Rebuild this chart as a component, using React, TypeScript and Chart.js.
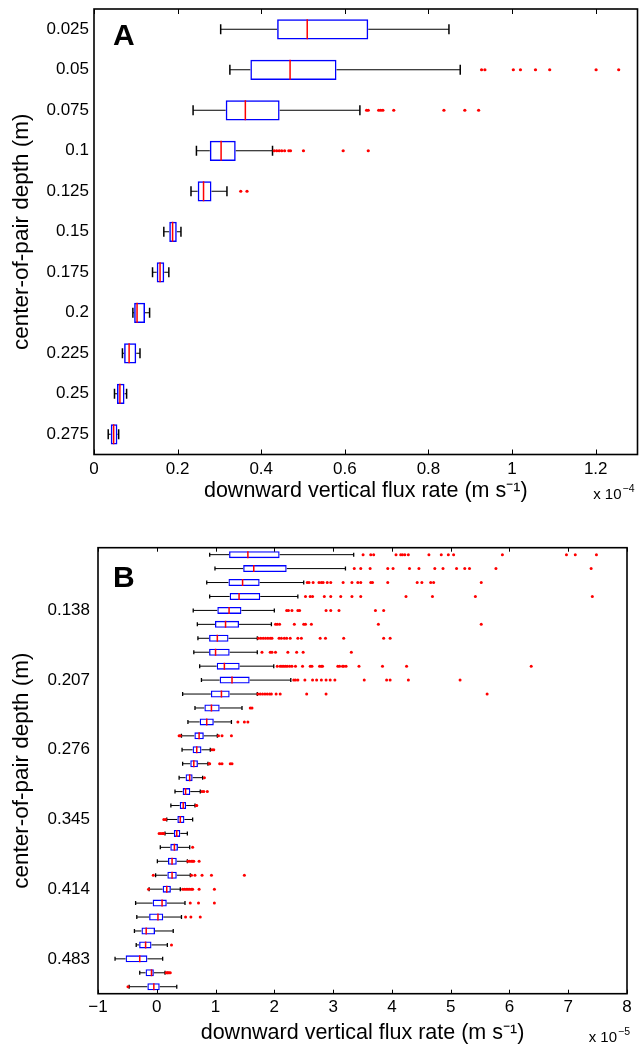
import React, { useEffect, useRef } from 'react';
import { Chart, registerables } from 'chart.js';

Chart.register(...registerables);

const FONT = '"Liberation Sans", Arial, Helvetica, sans-serif';

// ---------- Panel A ----------
const depthsA = [0.025, 0.05, 0.075, 0.1, 0.125, 0.15, 0.175, 0.2, 0.225, 0.25, 0.275];
const yTickLabelsA = ['0.025', '0.05', '0.075', '0.1', '0.125', '0.15', '0.175', '0.2', '0.225', '0.25', '0.275'];
const loA = [0.303, 0.325, 0.237, 0.245, 0.232, 0.167, 0.14, 0.093, 0.068, 0.049, 0.034];
const q1A = [0.438, 0.374, 0.315, 0.277, 0.248, 0.18, 0.15, 0.096, 0.072, 0.055, 0.04];
const medA = [0.51, 0.469, 0.362, 0.304, 0.262, 0.188, 0.158, 0.103, 0.084, 0.062, 0.047];
const q3A = [0.656, 0.58, 0.444, 0.339, 0.281, 0.198, 0.168, 0.122, 0.101, 0.073, 0.056];
const hiA = [0.849, 0.876, 0.636, 0.427, 0.318, 0.208, 0.179, 0.133, 0.11, 0.078, 0.059];
const outliersA = [
  [],
  [0.927, 0.935, 1.003, 1.02, 1.056, 1.09, 1.201, 1.255],
  [0.652, 0.656, 0.681, 0.686, 0.691, 0.717, 0.837, 0.887, 0.92],
  [0.431, 0.437, 0.443, 0.449, 0.456, 0.466, 0.47, 0.501, 0.596, 0.656],
  [0.351, 0.366],
  [], [], [], [], [], [],
];
const xTicksA = [0, 0.2, 0.4, 0.6, 0.8, 1, 1.2];
const xTickLabelsA = ['0', '0.2', '0.4', '0.6', '0.8', '1', '1.2'];

// ---------- Panel B ----------
const depthsB = [0.0828, 0.0966, 0.1104, 0.1242, 0.138, 0.1518, 0.1656, 0.1794, 0.1932, 0.207, 0.2208, 0.2346,
  0.2484, 0.2622, 0.276, 0.2898, 0.3036, 0.3174, 0.3312, 0.345, 0.3588, 0.3726, 0.3864, 0.4002, 0.414, 0.4278,
  0.4416, 0.4554, 0.4692, 0.483, 0.4968, 0.5106];
const yTicksB = [0.138, 0.207, 0.276, 0.345, 0.414, 0.483];
const yTickLabelsB = ['0.138', '0.207', '0.276', '0.345', '0.414', '0.483'];
const loB = [0.9, 0.99, 0.85, 0.9, 0.62, 0.69, 0.7, 0.63, 0.73, 0.76, 0.44, 0.65, 0.53, 0.42, 0.43, 0.44, 0.38,
  0.31, 0.24, 0.17, 0.14, 0.06, 0.01, -0.02, -0.13, -0.36, -0.34, -0.38, -0.35, -0.71, -0.29, -0.47];
const q1B = [1.23, 1.47, 1.22, 1.24, 1.03, 0.99, 0.89, 0.89, 1.02, 1.07, 0.92, 0.81, 0.73, 0.64, 0.61, 0.57, 0.49,
  0.44, 0.39, 0.35, 0.29, 0.23, 0.19, 0.18, 0.1, -0.07, -0.13, -0.26, -0.3, -0.53, -0.19, -0.16];
const medB = [1.55, 1.65, 1.46, 1.4, 1.23, 1.17, 1.03, 1.0, 1.15, 1.28, 1.1, 0.93, 0.85, 0.72, 0.68, 0.63, 0.56,
  0.49, 0.45, 0.4, 0.34, 0.3, 0.26, 0.26, 0.17, 0.09, 0.02, -0.18, -0.19, -0.29, -0.09, -0.05];
const q3B = [2.09, 2.21, 1.75, 1.76, 1.44, 1.4, 1.22, 1.24, 1.41, 1.58, 1.24, 1.07, 0.97, 0.8, 0.76, 0.7, 0.61,
  0.57, 0.5, 0.47, 0.4, 0.36, 0.34, 0.34, 0.24, 0.17, 0.11, -0.03, -0.09, -0.16, -0.05, 0.05];
const hiB = [3.35, 3.21, 2.5, 2.4, 2.0, 1.95, 1.71, 1.71, 1.99, 2.28, 1.71, 1.45, 1.27, 1.03, 0.91, 0.87, 0.78,
  0.74, 0.65, 0.61, 0.52, 0.56, 0.52, 0.57, 0.4, 0.48, 0.42, 0.28, 0.18, 0.1, 0.14, 0.34];
const outliersB = [
  [3.51, 3.64, 3.69, 4.07, 4.15, 4.18, 4.22, 4.28, 4.63, 4.84, 4.96, 5.05, 5.88, 6.97, 7.12, 7.48],
  [3.36, 3.47, 3.63, 3.93, 4.02, 4.3, 4.46, 4.73, 4.87, 5.1, 5.24, 5.32, 5.77, 7.39],
  [2.56, 2.59, 2.66, 2.76, 2.8, 2.83, 2.9, 2.96, 3.17, 3.32, 3.42, 3.47, 3.64, 3.67, 3.93, 4.43, 4.51, 4.66, 4.71, 5.52],
  [2.53, 2.61, 2.65, 2.85, 2.96, 3.13, 3.32, 3.47, 4.24, 4.69, 5.42, 7.41],
  [2.21, 2.24, 2.3, 2.4, 2.43, 2.88, 2.96, 3.1, 3.72, 3.86],
  [2.02, 2.05, 2.09, 2.34, 2.5, 2.53, 2.63, 3.77, 5.52],
  [1.73, 1.77, 1.81, 1.85, 1.89, 1.93, 1.96, 2.08, 2.12, 2.17, 2.21, 2.27, 2.4, 2.46, 2.78, 2.87, 3.18, 3.86, 3.97],
  [1.79, 1.93, 1.96, 2.02, 2.23, 2.38, 2.49, 3.31],
  [2.05, 2.1, 2.13, 2.16, 2.19, 2.22, 2.26, 2.3, 2.36, 2.48, 2.61, 2.64, 2.77, 2.8, 2.82, 3.08, 3.11, 3.16, 3.18, 3.22, 3.44, 3.84, 4.25, 6.37],
  [2.33, 2.36, 2.4, 2.52, 2.65, 2.72, 2.8, 2.88, 2.95, 3.03, 3.53, 3.91, 3.97, 4.28, 5.16],
  [1.72, 1.76, 1.8, 1.84, 1.88, 1.92, 1.95, 2.03, 2.1, 2.55, 2.88, 5.62],
  [1.59, 1.62],
  [1.38, 1.49, 1.55],
  [0.38, 0.4, 1.05, 1.11, 1.27],
  [0.94, 0.97],
  [0.89, 0.9, 1.07, 1.11, 1.25, 1.28],
  [0.81],
  [0.77, 0.8, 0.86],
  [0.67, 0.68],
  [0.12, 0.15],
  [0.04, 0.07, 0.1, 0.12],
  [0.61],
  [0.53, 0.56, 0.59, 0.61, 0.63, 0.72],
  [-0.06, 0.59, 0.65, 0.77, 0.93, 1.49],
  [-0.14, 0.44, 0.47, 0.5, 0.53, 0.56, 0.59, 0.61, 0.72, 0.98],
  [0.57, 0.71, 0.98],
  [0.49, 0.58, 0.74],
  [],
  [0.25],
  [],
  [0.16, 0.18, 0.19, 0.21, 0.23],
  [-0.49],
];
const xTicksB = [-1, 0, 1, 2, 3, 4, 5, 6, 7, 8];
const xTickLabelsB = ['\u22121', '0', '1', '2', '3', '4', '5', '6', '7', '8'];

const X_TITLE = 'downward vertical flux rate (m s\u207B\u00B9)';
const Y_TITLE = 'center-of-pair depth (m)';

function buildDatasets(depths, lo, q1, med, q3, hi, outliers, st) {
  const whiskers = [];
  depths.forEach((d, i) => {
    whiskers.push({ x: lo[i], y: d }, { x: q1[i], y: d }, { x: null, y: null });
    whiskers.push({ x: q3[i], y: d }, { x: hi[i], y: d }, { x: null, y: null });
  });
  const caps = [];
  depths.forEach((d, i) => {
    caps.push({ x: lo[i], y: d }, { x: hi[i], y: d });
  });
  const dots = [];
  outliers.forEach((row, i) => row.forEach((v) => dots.push({ x: v, y: depths[i] })));
  return [
    {
      type: 'scatter', label: 'whiskers', data: whiskers, showLine: true, spanGaps: false,
      borderColor: '#000', borderWidth: st.whiskerW, pointRadius: 0, order: 5,
    },
    {
      type: 'bar', label: 'box', indexAxis: 'y',
      data: depths.map((d, i) => ({ x: [q1[i], q3[i]], y: d })),
      backgroundColor: 'rgba(255,255,255,0)', borderColor: '#0000ff', borderWidth: st.boxW,
      borderSkipped: false, categoryPercentage: 1, barPercentage: 0.5, order: 4,
    },
    {
      type: 'scatter', label: 'median', data: depths.map((d, i) => ({ x: med[i], y: d })),
      pointStyle: 'line', pointRotation: 90, pointRadius: st.medR,
      pointBorderColor: '#ff0000', pointBorderWidth: st.medW, order: 3,
    },
    {
      type: 'scatter', label: 'caps', data: caps,
      pointStyle: 'line', pointRotation: 90, pointRadius: st.capR,
      pointBorderColor: '#000', pointBorderWidth: st.capW, order: 2,
    },
    {
      type: 'scatter', label: 'outliers', data: dots,
      pointStyle: 'circle', pointRadius: st.dotR, pointBackgroundColor: '#ff0000',
      pointBorderColor: '#ff0000', pointBorderWidth: 0, order: 1,
    },
  ];
}

function framePlugin(cfg) {
  return {
    id: 'frame' + cfg.letter,
    afterDraw(chart) {
      const { ctx, chartArea: a } = chart;
      const xs = chart.scales.x;
      ctx.save();
      ctx.strokeStyle = '#000';
      ctx.lineWidth = 1;
      ctx.beginPath();
      xs.ticks.forEach((t) => {
        const px = Math.round(xs.getPixelForValue(t.value)) + 0.5;
        ctx.moveTo(px, a.bottom);
        ctx.lineTo(px, a.bottom - cfg.tickLen);
        ctx.moveTo(px, a.top);
        ctx.lineTo(px, a.top + cfg.tickLen);
      });
      ctx.stroke();
      ctx.lineWidth = cfg.frameW;
      ctx.strokeRect(a.left, a.top, a.right - a.left, a.bottom - a.top);
      ctx.fillStyle = '#000';
      ctx.font = `bold 30px ${FONT}`;
      ctx.textAlign = 'left';
      ctx.textBaseline = 'alphabetic';
      ctx.fillText(cfg.letter, a.left + cfg.letterDx, a.top + cfg.letterDy);
      ctx.font = `15px ${FONT}`;
      ctx.textAlign = 'right';
      ctx.fillText('x 10', a.right + cfg.expDx, a.bottom + cfg.expDy);
      ctx.font = `10.5px ${FONT}`;
      ctx.textAlign = 'left';
      ctx.fillText(cfg.exp, a.right + cfg.expDx + 1, a.bottom + cfg.expDy - 7);
      ctx.restore();
    },
  };
}

function makeConfig(p) {
  return {
    type: 'bar',
    data: { datasets: buildDatasets(p.depths, p.lo, p.q1, p.med, p.q3, p.hi, p.outliers, p.style) },
    options: {
      animation: false,
      responsive: false,
      devicePixelRatio: 1,
      events: [],
      layout: { padding: p.padding, autoPadding: false },
      plugins: { legend: { display: false }, tooltip: { enabled: false } },
      scales: {
        x: {
          type: 'linear', position: 'bottom', min: p.xMin, max: p.xMax, offset: false,
          afterBuildTicks: (s) => { s.ticks = p.xTicks.map((v) => ({ value: v })); },
          afterFit: (s) => { s.height = p.xAxisH; s.paddingLeft = 0; s.paddingRight = 0; },
          grid: { display: false, drawTicks: false },
          border: { display: false },
          ticks: {
            callback: (v, i) => p.xTickLabels[i], autoSkip: false, maxRotation: 0,
            font: { family: FONT, size: 17 }, color: '#000', padding: p.xTickPad,
          },
          title: {
            display: true, text: X_TITLE, color: '#000',
            font: { family: FONT, size: 21.5 }, padding: { top: 0, bottom: p.xTitlePad },
          },
        },
        y: {
          type: 'linear', position: 'left', reverse: true, min: p.yMin, max: p.yMax, offset: false,
          afterBuildTicks: (s) => { s.ticks = p.yTicks.map((v) => ({ value: v })); },
          afterFit: (s) => { s.width = p.yAxisW; s.paddingTop = 0; s.paddingBottom = 0; },
          grid: { display: false, drawTicks: false },
          border: { display: false },
          ticks: {
            callback: (v, i) => p.yTickLabels[i], autoSkip: false,
            font: { family: FONT, size: 17 }, color: '#000', padding: p.yTickPad,
          },
          title: {
            display: true, text: Y_TITLE, color: '#000',
            font: { family: FONT, size: 22.5 }, padding: { top: 8, bottom: 0 },
          },
        },
      },
    },
    plugins: [framePlugin(p.frame)],
  };
}

const panelA = {
  depths: depthsA, lo: loA, q1: q1A, med: medA, q3: q3A, hi: hiA, outliers: outliersA,
  style: { whiskerW: 1, boxW: 1.5, medR: 10, medW: 1.5, capR: 5, capW: 1.5, dotR: 1.6 },
  padding: { left: 0, right: 1.5, top: 9, bottom: 0 },
  xMin: 0, xMax: 1.3, xTicks: xTicksA, xTickLabels: xTickLabelsA, xAxisH: 65.5, xTickPad: 5, xTitlePad: 16,
  yMin: 0.0125, yMax: 0.2875, yTicks: depthsA, yTickLabels: yTickLabelsA, yAxisW: 94, yTickPad: 5,
  frame: { letter: 'A', exp: '\u22124', tickLen: 5, frameW: 1.6, letterDx: 19, letterDy: 36, expDx: -16, expDy: 44 },
};

const panelB = {
  depths: depthsB, lo: loB, q1: q1B, med: medB, q3: q3B, hi: hiB, outliers: outliersB,
  style: { whiskerW: 1, boxW: 1.3, medR: 3.5, medW: 1.5, capR: 2, capW: 1.3, dotR: 1.5 },
  padding: { left: 0, right: 12, top: 27.7, bottom: 0 },
  xMin: -1, xMax: 8, xTicks: xTicksB, xTickLabels: xTickLabelsB, xAxisH: 52.3, xTickPad: 3, xTitlePad: 0,
  yMin: 0.0759, yMax: 0.5175, yTicks: yTicksB, yTickLabels: yTickLabelsB, yAxisW: 98, yTickPad: 8,
  frame: { letter: 'B', exp: '\u22125', tickLen: 4, frameW: 1.6, letterDx: 15, letterDy: 39, expDx: -10, expDy: 48 },
};

function BoxPanel({ spec, height }) {
  const ref = useRef(null);
  useEffect(() => {
    const chart = new Chart(ref.current, makeConfig(spec));
    return () => chart.destroy();
  }, [spec]);
  return (
    <canvas ref={ref} width={639} height={height} style={{ display: 'block', width: 639, height }} />
  );
}

export default function App() {
  return (
    <div style={{ position: 'absolute', left: 0, top: 0, width: 639, height: 1046, background: '#fff' }}>
      <BoxPanel spec={panelA} height={520} />
      <BoxPanel spec={panelB} height={526} />
    </div>
  );
}
